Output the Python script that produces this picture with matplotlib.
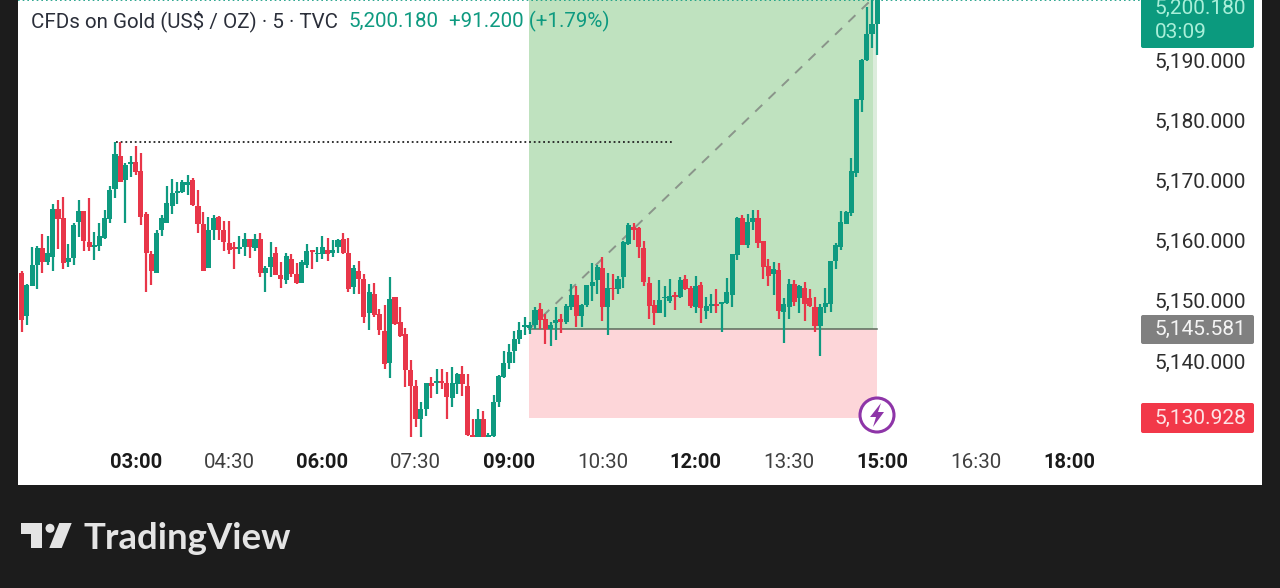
import matplotlib
matplotlib.use("Agg")
import matplotlib.pyplot as plt
from matplotlib.patches import Rectangle, Circle, Polygon, FancyBboxPatch

plt.rcParams['font.family'] = ['Roboto', 'DejaVu Sans']

opens = [5154.6,5147.5,5152.5,5156.0,5158.7,5156.5,5157.3,5165.3,5163.8,5156.5,
 5157.1,5163.1,5164.9,5159.7,5158.9,5159.1,5160.4,5163.6,5168.5,5174.0,
 5170.1,5172.7,5173.1,5171.6,5164.5,5157.8,5154.6,5161.7,5163.0,5165.7,
 5167.9,5168.0,5169.3,5170.1,5165.8,5162.8,5155.4,5161.8,5163.9,5161.7,
 5159.6,5158.9,5158.6,5158.9,5160.2,5158.7,5160.2,5154.6,5155.6,5158.0,
 5154.3,5153.5,5156.9,5154.5,5153.0,5155.9,5158.4,5157.7,5157.7,5158.4,
 5157.9,5158.9,5160.2,5157.9,5152.3,5155.0,5153.7,5148.0,5151.1,5147.8,
 5145.0,5139.7,5150.6,5146.4,5144.5,5138.5,5135.9,5130.3,5132.1,5136.4,
 5136.3,5136.5,5136.3,5133.8,5136.1,5137.8,5135.8,5127.7,5127.4,5130.4,
 5127.4,5127.5,5133.2,5137.3,5139.6,5141.7,5143.6,5145.6,5145.4,5146.0,
 5148.6,5146.9,5145.3,5146.3,5147.0,5146.4,5149.0,5151.0,5147.4,5149.3,
 5152.5,5153.4,5155.4,5148.9,5152.2,5151.9,5153.9,5159.4,5162.2,5162.1,
 5158.7,5153.0,5149.3,5148.0,5150.4,5150.0,5151.0,5150.6,5153.6,5152.2,
 5149.0,5152.6,5148.3,5149.2,5149.4,5149.5,5149.6,5150.9,5157.6,5163.8,
 5159.2,5163.1,5163.7,5159.9,5155.7,5154.5,5155.1,5148.1,5149.0,5152.8,
 5150.4,5152.2,5150.5,5149.0,5145.8,5148.9,5149.5,5156.6,5158.9,5162.7,
 5164.6,5171.2,5183.4,5190.0,5194.3,5195.9]
highs = [5154.9,5152.8,5158.9,5159.1,5161.1,5160.8,5166.1,5166.7,5167.2,5159.5,
 5163.0,5166.8,5164.9,5167.0,5161.4,5162.9,5165.1,5169.1,5176.3,5176.3,
 5172.9,5174.0,5175.7,5174.6,5164.8,5158.3,5161.8,5164.3,5169.0,5170.2,
 5169.8,5170.1,5170.9,5170.4,5168.4,5164.8,5163.9,5164.3,5164.1,5163.3,
 5163.2,5159.7,5160.7,5161.3,5160.2,5161.1,5161.3,5155.7,5159.8,5159.0,
 5156.5,5157.9,5157.7,5156.2,5156.8,5159.4,5158.4,5158.9,5160.7,5160.4,
 5160.1,5160.2,5161.2,5160.4,5156.0,5156.6,5154.5,5152.8,5152.9,5148.7,
 5149.3,5153.9,5150.7,5149.0,5145.4,5140.2,5136.8,5133.2,5136.3,5137.4,
 5138.7,5138.7,5138.2,5139.0,5138.0,5139.1,5137.9,5130.4,5132.1,5131.7,
 5128.1,5134.3,5137.6,5141.7,5142.8,5145.0,5146.5,5147.3,5146.5,5149.0,
 5149.7,5147.8,5146.5,5148.9,5147.8,5149.5,5152.8,5152.4,5149.4,5152.6,
 5156.3,5156.0,5157.2,5154.6,5154.4,5154.1,5160.0,5163.0,5162.9,5162.3,
 5160.0,5154.0,5150.1,5153.5,5152.4,5153.6,5151.5,5154.0,5154.3,5152.4,
 5154.1,5153.2,5150.7,5151.2,5151.9,5149.8,5153.8,5157.7,5163.9,5164.2,
 5164.5,5165.0,5165.0,5159.9,5157.0,5156.5,5156.3,5150.4,5153.7,5153.5,
 5152.6,5153.1,5152.0,5150.7,5149.5,5152.2,5156.6,5159.6,5164.9,5164.9,
 5173.7,5183.5,5190.1,5198.8,5200.0,5203.0]
lows = [5144.8,5146.0,5152.4,5151.9,5154.6,5156.0,5155.0,5158.6,5155.2,5155.6,
 5156.0,5160.6,5158.3,5158.3,5156.8,5158.2,5160.3,5162.9,5167.0,5169.8,
 5163.0,5170.6,5170.9,5162.6,5151.4,5152.6,5154.6,5160.8,5163.0,5164.5,
 5166.1,5167.9,5167.6,5165.8,5161.2,5154.9,5155.4,5160.1,5160.1,5158.3,
 5157.8,5155.2,5157.8,5157.5,5157.1,5158.3,5154.0,5151.4,5154.0,5154.3,
 5152.2,5152.8,5154.0,5152.8,5152.9,5155.5,5155.2,5156.5,5156.9,5156.6,
 5157.2,5158.0,5157.7,5151.5,5151.2,5151.2,5146.3,5145.1,5147.3,5144.3,
 5138.6,5137.2,5146.0,5144.0,5135.7,5127.4,5129.1,5127.4,5130.8,5133.9,
 5134.6,5135.4,5130.4,5132.3,5134.5,5134.2,5127.5,5127.4,5127.4,5127.4,
 5127.4,5127.4,5132.3,5137.1,5138.7,5139.7,5142.9,5144.3,5144.5,5145.3,
 5145.3,5142.9,5142.5,5143.5,5144.6,5146.2,5148.5,5145.7,5145.7,5149.0,
 5150.0,5151.1,5146.7,5144.3,5150.1,5151.2,5152.2,5159.3,5160.1,5157.1,
 5152.5,5146.9,5146.0,5147.9,5147.3,5149.7,5148.5,5150.5,5151.8,5148.8,
 5147.9,5146.3,5147.0,5147.9,5147.9,5144.8,5149.5,5148.9,5156.7,5159.2,
 5158.8,5161.7,5158.8,5153.7,5152.4,5151.0,5147.0,5143.0,5146.9,5149.2,
 5147.9,5146.6,5148.9,5144.8,5140.8,5148.0,5148.1,5155.3,5158.5,5162.7,
 5164.1,5170.6,5181.4,5189.9,5192.0,5190.9]
closes = [5146.8,5152.6,5155.9,5158.7,5156.5,5157.9,5165.3,5163.6,5156.2,5157.1,
 5162.6,5164.9,5160.0,5158.9,5159.1,5160.8,5163.7,5168.4,5174.4,5169.8,
 5172.6,5173.1,5171.4,5164.0,5158.0,5155.0,5161.3,5163.7,5166.2,5167.9,
 5168.3,5169.8,5169.8,5165.9,5162.8,5154.9,5161.8,5163.7,5161.8,5159.7,
 5158.5,5158.6,5158.9,5160.2,5158.9,5160.2,5154.7,5155.4,5157.3,5154.3,
 5153.7,5157.5,5154.5,5152.9,5156.5,5158.2,5158.1,5157.9,5158.9,5157.7,
 5158.4,5160.1,5157.9,5152.0,5155.5,5153.7,5147.3,5151.5,5147.6,5145.1,
 5139.5,5150.3,5146.1,5144.2,5138.5,5135.9,5130.4,5132.1,5136.3,5135.9,
 5136.5,5136.3,5134.0,5136.3,5137.8,5136.1,5127.7,5127.4,5130.4,5127.4,
 5127.7,5133.2,5137.5,5139.6,5141.5,5143.7,5145.1,5145.8,5145.9,5148.5,
 5146.8,5145.3,5146.0,5146.8,5146.5,5149.1,5151.0,5147.4,5149.3,5152.6,
 5153.2,5155.6,5148.9,5152.2,5151.9,5153.7,5159.7,5162.6,5161.7,5158.9,
 5153.2,5149.2,5148.0,5150.1,5150.6,5150.8,5150.6,5153.5,5151.9,5149.1,
 5152.4,5148.8,5149.2,5149.4,5149.2,5149.7,5151.5,5157.7,5163.8,5159.3,
 5163.1,5163.7,5159.6,5155.6,5154.1,5155.2,5148.3,5149.4,5152.8,5149.8,
 5152.4,5149.5,5149.1,5145.8,5149.0,5149.6,5156.6,5159.2,5163.1,5164.8,
 5171.5,5183.5,5190.0,5194.3,5196.0,5200.18]

y_ticks = [5140, 5150, 5160, 5170, 5180, 5190]
x_tick_labels = ['03:00','04:30','06:00','07:30','09:00','10:30','12:00','13:30','15:00','16:30','18:00']
x_tick_bold = ['03:00','06:00','09:00','12:00','15:00','18:00']
bars_to_first_tick = 22
bars_per_tick = 18

entry_price = 5145.25
stop_price = 5130.6
target_price = 5200.18
resistance_price = 5176.3

W, H = 1280, 588
BG = '#1c1c1c'
GREEN = '#0e9a80'
RED = '#e83649'
fig = plt.figure(figsize=(W/100, H/100), dpi=100, facecolor=BG)

def fx(x): return x/W
def fy(y): return 1 - y/H

fig.add_artist(Rectangle((fx(18), fy(485)), (1262-18)/W, 485/H, transform=fig.transFigure,
                         fc='white', ec='none', zorder=-5))

ax = fig.add_axes([fx(18), fy(437), (1137-18)/W, 437/H], facecolor='none')
spacing = 5.185
x0 = 21.7
def px2bar(x): return (x - x0)/spacing
ax.set_xlim(px2bar(18), px2bar(1137))
ax.set_ylim(5190 - (437-60)/6.02, 5190 + 60/6.02)

n = list(range(len(opens)))
cols = [GREEN if c >= o else RED for o, c in zip(opens, closes)]

# position tool
start, end = px2bar(529), px2bar(877)
split = px2bar(872.5)
ax.fill_between([start, split], entry_price, 5210, color='#bfe2bf', lw=0, zorder=1)
ax.fill_between([split, end], entry_price, 5210, color='#dcecdc', lw=0, zorder=1)
ax.fill_between([start, end], stop_price, entry_price, color='#fdd6d9', lw=0, zorder=1)
ax.plot([start, end], [entry_price, entry_price], color='#5c6b5c', lw=1.1, zorder=2)
ax.plot([start, split], [entry_price, target_price], color='#8a958a', lw=1.4,
        dashes=(5, 4.5), zorder=2)

# resistance dotted
ax.plot([px2bar(116), px2bar(673)], [resistance_price]*2, color='#222222', lw=1.3,
        dashes=(1, 1.6), zorder=2)

# candles
ax.vlines(n, lows, highs, colors=cols, lw=1.6, zorder=3)
ax.bar(n, [abs(c-o) if abs(c-o) > 0.3 else 0.3 for o, c in zip(opens, closes)],
       bottom=[min(o, c) for o, c in zip(opens, closes)], width=0.98, color=cols, lw=0, zorder=4)

# last price dotted
ax.plot([px2bar(18), px2bar(1141)], [5199.9, 5199.9], color=GREEN, lw=1.2, dashes=(1, 1.8),
        clip_on=False, zorder=5)

for s in ax.spines.values():
    s.set_visible(False)
ax.set_xticks([bars_to_first_tick + i*bars_per_tick for i in range(len(x_tick_labels))])
ax.set_xticklabels(x_tick_labels)
for lab in ax.get_xticklabels():
    b = lab.get_text() in x_tick_bold
    lab.set_fontweight('bold' if b else 'normal')
    lab.set_color('#1a1a1a' if b else '#404040')
    lab.set_fontsize(14.5 if b else 14.8)
ax.yaxis.tick_right()
ax.set_yticks(y_ticks)
ax.set_yticklabels([f'{v:,.3f}' for v in y_ticks], fontsize=15, color='#2e2e2e')
ax.tick_params(axis='x', length=0, pad=11.2)
ax.tick_params(axis='y', length=0, pad=12.4)

def ftext(x, y, s, **kw):
    kw.setdefault('va', 'center')
    fig.text(fx(x), fy(y), s, **kw)

# header
ftext(31, 21, 'CFDs on Gold (US$ / OZ) · 5 · TVC', color='#2a2e39', fontsize=14.8)
ftext(348.5, 21, '5,200.180', color=GREEN, fontsize=14.8)
ftext(449, 21, '+91.200 (+1.79%)', color=GREEN, fontsize=14.8)

# price boxes
def box(y0, y1, col):
    fig.add_artist(FancyBboxPatch((1141, H-y1), 113, y1-y0, boxstyle='round,pad=0,rounding_size=2',
                                  transform=None, fc=col, ec='none', zorder=3))
box(-6, 48, '#0b9a7e')
box(315, 344, '#808080')
box(403, 433, '#f23849')
ftext(1154.5, 8, '5,200.180', color='#a9efd9', fontsize=15, zorder=4)
ftext(1154.5, 32, '03:09', color='#a9efd9', fontsize=15, zorder=4)
ftext(1154.5, 329.5, '5,145.581', color='#f4f4f4', fontsize=15, zorder=4)
ftext(1154.5, 418, '5,130.928', color='#fde3e5', fontsize=15, zorder=4)

# lightning badge
fig.add_artist(Circle((877, H-415), 17, transform=None, fc='white', ec='#8e35a8', lw=2.2, zorder=6))
bolt = [(881,403),(870,417),(876,417),(873,427),(884,412),(878,412)]
fig.add_artist(Polygon([(x, H-y) for x, y in bolt], transform=None, fc='#8e35a8', ec='none', zorder=7))

# logo
LOGO = '#e4e4e4'
t_shape = [(20.7,523),(41.7,523),(41.7,548),(31,548),(31,534),(20.7,534)]
slash = [(59.3,523),(71.7,523),(61.7,548),(49.3,548)]
fig.add_artist(Polygon([(x, H-y) for x, y in t_shape], transform=None, fc=LOGO, ec='none'))
fig.add_artist(Polygon([(x, H-y) for x, y in slash], transform=None, fc=LOGO, ec='none'))
fig.add_artist(Circle((50, H-528.3), 4.5, transform=None, fc=LOGO, ec='none'))
fig.text(fx(84), fy(549), 'TradingView', color=LOGO, fontsize=26.4, fontweight='bold',
         family=['Lato', 'DejaVu Sans'], va='baseline')

fig.savefig('out.png', dpi=100, facecolor=BG)
